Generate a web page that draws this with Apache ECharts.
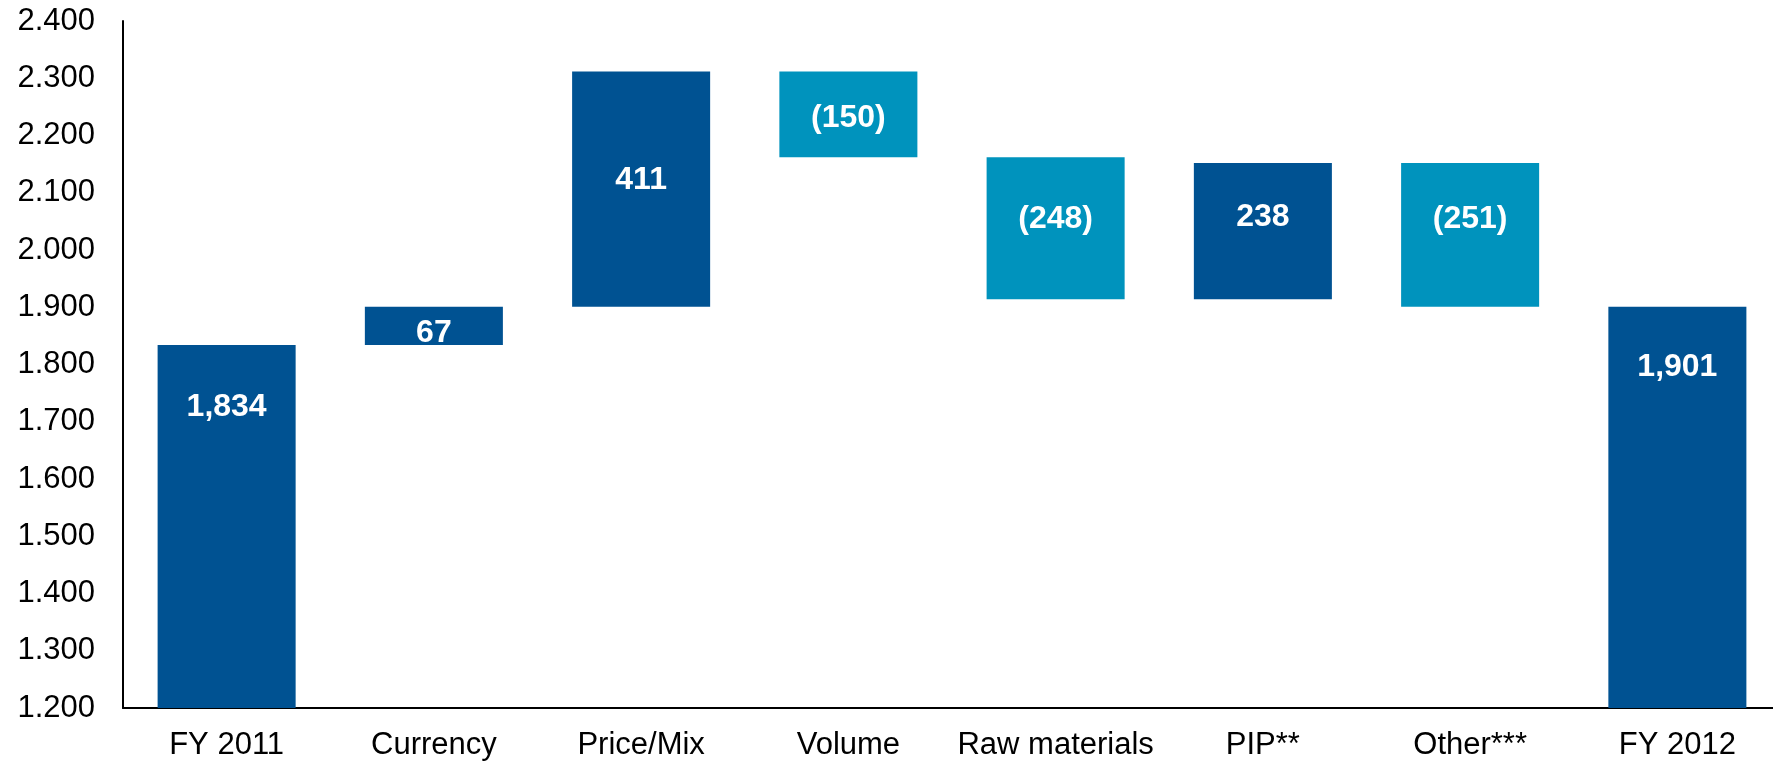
<!DOCTYPE html>
<html>
<head>
<meta charset="utf-8">
<script src="https://cdn.jsdelivr.net/npm/echarts@6/dist/echarts.min.js"></script>
<style>
html,body{margin:0;padding:0;background:#fff;}
#chart{width:1773px;height:764px;}
</style>
</head>
<body>
<div id="chart"></div>
<script>
const categories = ['FY 2011', 'Currency', 'Price/Mix', 'Volume', 'Raw materials', 'PIP**', 'Other***', 'FY 2012'];
// type: 'total' bars start from zero, 'delta' bars float
const kinds = ['total', 'delta', 'delta', 'delta', 'delta', 'delta', 'delta', 'total'];
const values = [1834, 67, 411, -150, -248, 238, -251, 1901];
const yTickLabels = ['1.200','1.300','1.400','1.500','1.600','1.700','1.800','1.900','2.000','2.100','2.200','2.300','2.400'];

const DARK = '#005292';
const LIGHT = '#0093BD';
const FONT = 'Liberation Sans, Arial, sans-serif';
// vertical nudges of the value labels (style only)
const labelNudge = [46, 7, -9, 4, -9, -14, -16, 44];

// build waterfall: transparent base + visible part
const baseData = [];
const visData = [];
let running = 0;
for (let i = 0; i < values.length; i++) {
  if (kinds[i] === 'total') {
    running = values[i];
    baseData.push(0);
    visData.push({ value: values[i], itemStyle: { color: DARK },
      label: { position: 'insideTop', distance: labelNudge[i] } });
  } else {
    const start = running;
    const end = running + values[i];
    baseData.push(Math.min(start, end));
    visData.push({ value: Math.abs(values[i]), itemStyle: { color: values[i] >= 0 ? DARK : LIGHT },
      label: { position: 'inside', offset: [0, labelNudge[i]] } });
    running = end;
  }
}

function fmtLabel(i) {
  const v = values[i];
  const s = Math.abs(v).toLocaleString('en-US');
  return v < 0 ? '(' + s + ')' : s;
}

const chart = echarts.init(document.getElementById('chart'));
chart.setOption({
  animation: false,
  grid: { left: 123, right: -8, top: 21, bottom: 56, containLabel: false, outerBoundsMode: 'none' },
  xAxis: {
    type: 'category',
    data: categories,
    axisLine: { lineStyle: { color: '#000', width: 2 } },
    axisTick: { show: false },
    axisLabel: { color: '#000', fontSize: 31, fontFamily: FONT, margin: 22, interval: 0 }
  },
  yAxis: {
    type: 'value',
    min: 1200,
    max: 2400,
    interval: 100,
    axisLine: { show: true, lineStyle: { color: '#000', width: 2 } },
    axisTick: { show: false },
    splitLine: { show: false },
    axisLabel: {
      color: '#000', fontSize: 31, fontFamily: FONT, margin: 28,
      formatter: function (v) { const idx = Math.round((v - 1200) / 100); return yTickLabels[idx] || ''; }
    }
  },
  series: [
    {
      type: 'bar', stack: 'wf', data: baseData, barWidth: '66.6%',
      itemStyle: { color: 'transparent' }, silent: true
    },
    {
      type: 'bar', stack: 'wf', data: visData, barWidth: '66.6%',
      label: {
        show: true, color: '#fff', fontWeight: 'bold', fontSize: 32, fontFamily: FONT,
        formatter: function (p) { return fmtLabel(p.dataIndex); }
      }
    }
  ]
});
</script>
</body>
</html>
